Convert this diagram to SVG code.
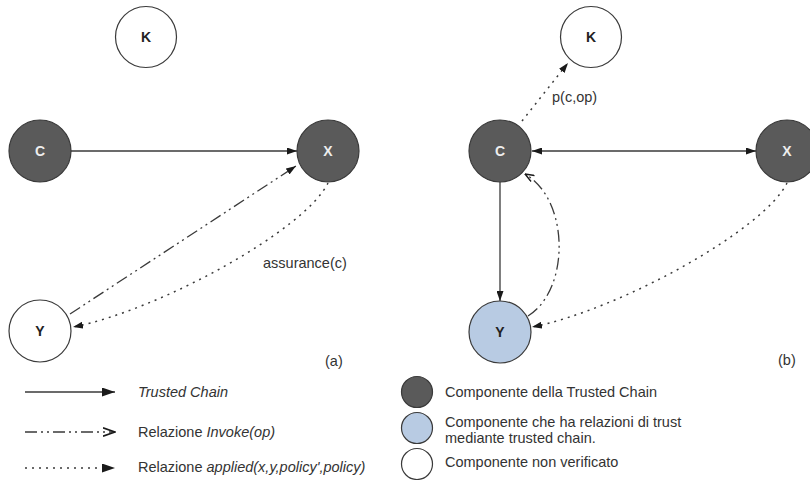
<svg xmlns="http://www.w3.org/2000/svg" width="810" height="480" viewBox="0 0 810 480">
  <style>
    .node { stroke: #3a3a3a; stroke-width: 1.2; }
    .trusted { fill: #5a5a5a; }
    .mediated { fill: #b8cbe3; }
    .unverified { fill: #ffffff; }
    .nlabel { font-family: "Liberation Sans", Arial, sans-serif; font-size: 14px; font-weight: bold; text-anchor: middle; }
    .nlabel.light { fill: #eeeeee; }
    .nlabel.dark { fill: #222222; }
    .edge { fill: none; stroke: #3a3a3a; stroke-width: 1.3; }
    .dashdot { stroke-dasharray: 12 4 2 4 2 4; }
    .dotted { stroke-dasharray: 2 5; stroke-width: 1.5; }
    .txt { font-family: "Liberation Sans", Arial, sans-serif; font-size: 14.5px; fill: #333333; }
    .it { font-style: italic; }
  </style>
  <defs>
    <marker id="head" viewBox="0 0 10 7" refX="10" refY="3.5" markerWidth="10" markerHeight="7" markerUnits="userSpaceOnUse" orient="auto-start-reverse">
      <path d="M0,0 L10,3.5 L0,7 z" fill="#1a1a1a"/>
    </marker>
    <marker id="bighead" viewBox="0 0 13 9" refX="13" refY="4.5" markerWidth="13" markerHeight="9" markerUnits="userSpaceOnUse" orient="auto">
      <path d="M0,0 L13,4.5 L0,9 z" fill="#1a1a1a"/>
    </marker>
    <marker id="openhead" viewBox="0 0 10 8" refX="9.5" refY="4" markerWidth="10" markerHeight="8" markerUnits="userSpaceOnUse" orient="auto">
      <path d="M0.5,0.5 L9.5,4 L0.5,7.5" fill="none" stroke="#1a1a1a" stroke-width="1.4"/>
    </marker>
    <marker id="bigopenhead" viewBox="0 0 13 10" refX="12.5" refY="5" markerWidth="13" markerHeight="10" markerUnits="userSpaceOnUse" orient="auto">
      <path d="M0.5,0.8 L12.5,5 L0.5,9.2" fill="none" stroke="#1a1a1a" stroke-width="1.6"/>
    </marker>
  </defs>

  <!-- panel (a) -->
  <g id="a-connectors">
    <line class="edge" x1="71" y1="151" x2="297" y2="151" marker-end="url(#head)"/>
    <line class="edge dashdot" x1="70" y1="314" x2="296" y2="166" marker-end="url(#head)"/>
    <path class="edge dotted" d="M328,183 C305,230 160,310 73,327" marker-end="url(#head)"/>
  </g>
  <g id="a-K">
    <circle class="node unverified" cx="146" cy="37" r="30.5"/>
    <text class="nlabel dark" x="146" y="42">K</text>
  </g>
  <g id="a-C">
    <circle class="node trusted" cx="40" cy="151" r="31"/>
    <text class="nlabel light" x="40" y="156">C</text>
  </g>
  <g id="a-X">
    <circle class="node trusted" cx="328" cy="151" r="31"/>
    <text class="nlabel light" x="328" y="156">X</text>
  </g>
  <g id="a-Y">
    <circle class="node unverified" cx="40" cy="331" r="31"/>
    <text class="nlabel dark" x="40" y="336">Y</text>
  </g>
  <text class="txt" x="263" y="268" font-size="15">assurance(c)</text>
  <text class="txt" x="325" y="366">(a)</text>

  <!-- panel (b) -->
  <g id="b-connectors">
    <line class="edge dotted" x1="522" y1="121" x2="568" y2="63" marker-end="url(#head)"/>
    <line class="edge" x1="532" y1="151" x2="756" y2="151" marker-start="url(#head)" marker-end="url(#head)"/>
    <line class="edge" x1="500" y1="182" x2="500" y2="301" marker-end="url(#head)"/>
    <path class="edge dashdot" d="M528,316 C570,290 570,200 525,174" marker-end="url(#openhead)"/>
    <path class="edge dotted" d="M787,183 C764,230 619,310 532,327" marker-end="url(#head)"/>
  </g>
  <g id="b-K">
    <circle class="node unverified" cx="591" cy="37" r="30.5"/>
    <text class="nlabel dark" x="591" y="42">K</text>
  </g>
  <g id="b-C">
    <circle class="node trusted" cx="500" cy="151" r="31"/>
    <text class="nlabel light" x="500" y="156">C</text>
  </g>
  <g id="b-X">
    <circle class="node trusted" cx="787" cy="151" r="31"/>
    <text class="nlabel light" x="787" y="156">X</text>
  </g>
  <g id="b-Y">
    <circle class="node mediated" cx="500" cy="332" r="31"/>
    <text class="nlabel dark" x="500" y="337">Y</text>
  </g>
  <text class="txt" x="552" y="102" font-size="15">p(c,op)</text>
  <text class="txt" x="778" y="365">(b)</text>

  <!-- legend: relations -->
  <g id="legend-relations">
    <line class="edge" x1="25" y1="392" x2="115" y2="392" marker-end="url(#bighead)"/>
    <text class="txt it" x="138" y="397">Trusted Chain</text>
    <line class="edge dashdot" x1="25" y1="432" x2="115" y2="432" marker-end="url(#bigopenhead)"/>
    <text class="txt" x="138" y="437">Relazione <tspan class="it">Invoke(op)</tspan></text>
    <line class="edge dotted" x1="25" y1="468" x2="115" y2="468" marker-end="url(#bighead)"/>
    <text class="txt" x="138" y="472">Relazione <tspan class="it">applied(x,y,policy',policy)</tspan></text>
  </g>

  <!-- legend: components -->
  <g id="legend-components">
    <circle class="node trusted" cx="417" cy="392" r="15.5"/>
    <text class="txt" x="445" y="397">Componente della Trusted Chain</text>
    <circle class="node mediated" cx="417" cy="428" r="15.5"/>
    <text class="txt" x="445" y="427">Componente che ha relazioni di trust</text>
    <text class="txt" x="445" y="443">mediante trusted chain.</text>
    <circle class="node unverified" cx="417" cy="464" r="15.5"/>
    <text class="txt" x="445" y="467">Componente non verificato</text>
  </g>
</svg>
